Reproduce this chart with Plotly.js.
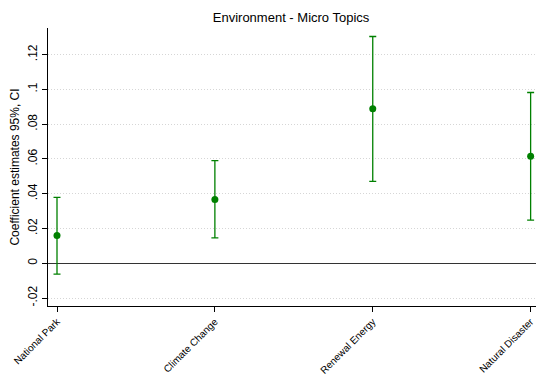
<!DOCTYPE html>
<html>
<head>
<meta charset="utf-8">
<script src="https://cdn.plot.ly/plotly-3.0.1.min.js"></script>
<style>
html,body{margin:0;padding:0;background:#fff;}
#chart{width:536px;height:379px;}
</style>
</head>
<body>
<div id="chart"></div>
<script>
var categories = ["National Park", "Climate Change", "Renewal Energy", "Natural Disaster"];
var estimates = [0.016, 0.0367, 0.0888, 0.0615];
var ciLow = [-0.0063, 0.0146, 0.0471, 0.0248];
var ciHigh = [0.0379, 0.0590, 0.1304, 0.0982];
var yTickVals = [-0.02, 0, 0.02, 0.04, 0.06, 0.08, 0.1, 0.12];
var yTickText = ["-.02", "0", ".02", ".04", ".06", ".08", ".1", ".12"];

var green = "#008000";
var trace = {
  x: categories,
  y: estimates,
  type: "scatter",
  mode: "markers",
  marker: {color: green, size: 7},
  error_y: {
    type: "data",
    symmetric: false,
    array: ciHigh.map(function(h, i){ return h - estimates[i]; }),
    arrayminus: ciLow.map(function(l, i){ return estimates[i] - l; }),
    color: green,
    thickness: 1.3,
    width: 3.5
  },
  hoverinfo: "skip",
  showlegend: false
};

var layout = {
  width: 536,
  height: 379,
  margin: {l: 48, r: 0, t: 28, b: 73, pad: 0},
  paper_bgcolor: "#fff",
  plot_bgcolor: "#fff",
  font: {family: "Liberation Sans, Arial, sans-serif", color: "#000"},
  title: {
    text: "Environment - Micro Topics",
    font: {size: 13, color: "#000"},
    x: 0.543, xanchor: "center",
    y: 0.955, yanchor: "middle"
  },
  xaxis: {
    type: "category",
    range: [-0.057, 3.034],
    showgrid: false,
    zeroline: false,
    showline: true,
    linecolor: "#000",
    linewidth: 1,
    ticks: "outside",
    ticklen: 5,
    tickcolor: "#000",
    tickangle: -45,
    tickfont: {size: 10, color: "#000"}
  },
  yaxis: {
    range: [-0.0246, 0.1353],
    tickvals: yTickVals,
    ticktext: yTickText,
    tickangle: -90,
    tickfont: {size: 12, color: "#000"},
    showgrid: true,
    gridcolor: "#d6d6d6",
    griddash: "1px,2px",
    gridwidth: 1,
    zeroline: true,
    zerolinecolor: "#333",
    zerolinewidth: 1,
    showline: true,
    linecolor: "#000",
    linewidth: 1,
    ticks: "outside",
    ticklen: 5,
    tickcolor: "#000",
    title: {text: "Coefficient estimates 95%, CI", font: {size: 12, color: "#000"}, standoff: 4}
  }
};

Plotly.newPlot("chart", [trace], layout, {staticPlot: true, displayModeBar: false});
</script>
</body>
</html>
